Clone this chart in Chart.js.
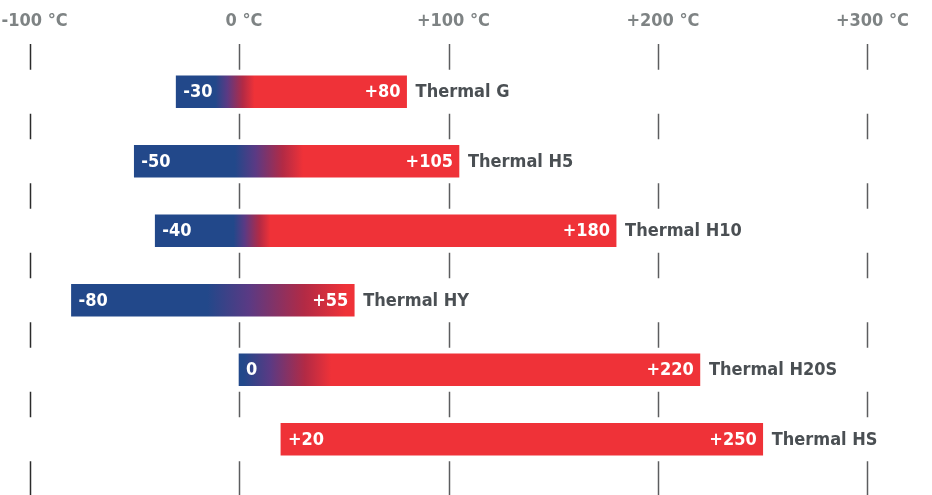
<!DOCTYPE html>
<html lang="de">
<head>
    <meta charset="UTF-8">
    <title>Thermal Temperaturbereiche</title>
    <script src="https://cdn.jsdelivr.net/npm/chart.js"></script>
    <style>
        html, body { margin: 0; padding: 0; background: #fff; }
        .wrap { width: 932px; height: 495px; }
    </style>
</head>
<body>
    <div class="wrap"><canvas id="grafico"></canvas></div>
</body>
</html>

<script>
    // Werte aus dem Bild
    const produkte = ['Thermal G', 'Thermal H5', 'Thermal H10', 'Thermal HY', 'Thermal H20S', 'Thermal HS'];
    const tempMin = [-30, -50, -40, -80, 0, 20];
    const tempMax = [80, 105, 180, 55, 220, 250];
    const tickWerte = [-100, 0, 100, 200, 300];

    // Verlauf blau -> rot, Anteil der Balkenlaenge (null = ganz rot)
    const verlauf = [[0.17, 0.34], [0.31, 0.52], [0.17, 0.25], [0.48, 0.97], [0.01, 0.2], null];

    const BLAU = '#22488a';
    const ROT = '#ef3238';
    const SCHRIFT = '"DejaVu Sans Condensed", "DejaVu Sans", sans-serif';

    function vorzeichen(v) {
        return v > 0 ? '+' + v : String(v);
    }

    function balkenFarbe(ctx) {
        const chart = ctx.chart;
        const x = chart.scales.x;
        const i = ctx.dataIndex;
        if (!chart.chartArea || !x || verlauf[i] === null) return ROT;
        const x0 = x.getPixelForValue(tempMin[i]);
        const x1 = x.getPixelForValue(tempMax[i]);
        const [a, b] = verlauf[i];
        const g = chart.ctx.createLinearGradient(x0, 0, x1, 0);
        g.addColorStop(0, BLAU);
        g.addColorStop(a, BLAU);
        g.addColorStop(a + (b - a) * 0.3, '#5a3a84');
        g.addColorStop(a + (b - a) * 0.7, '#b22a45');
        g.addColorStop(b, ROT);
        g.addColorStop(1, ROT);
        return g;
    }

    // senkrechte Linien mit Luecken um die Zeilen
    const gitter = {
        id: 'gitter',
        beforeDatasetsDraw(chart) {
            const c = chart.ctx;
            const x = chart.scales.x;
            const y = chart.scales.y;
            const halb = 16 + 6;
            c.save();
            c.lineWidth = 1.5;
            tickWerte.forEach((v, k) => {
                c.strokeStyle = k === 0 ? '#2b2b2b' : '#5c5d5f';
                const px = Math.round(x.getPixelForValue(v)) + 0.5;
                let start = 44;
                produkte.forEach((p, i) => {
                    const yc = y.getPixelForValue(i);
                    c.beginPath();
                    c.moveTo(px, start);
                    c.lineTo(px, yc - halb);
                    c.stroke();
                    start = yc + halb;
                });
                c.beginPath();
                c.moveTo(px, start);
                c.lineTo(px, chart.height);
                c.stroke();
            });
            c.restore();
        }
    };

    const beschriftung = {
        id: 'beschriftung',
        afterDatasetsDraw(chart) {
            const c = chart.ctx;
            const x = chart.scales.x;
            const y = chart.scales.y;
            c.save();
            c.font = 'bold 18px ' + SCHRIFT;
            c.textBaseline = 'middle';
            produkte.forEach((name, i) => {
                const x0 = x.getPixelForValue(tempMin[i]);
                const x1 = x.getPixelForValue(tempMax[i]);
                const yc = y.getPixelForValue(i) + 1;
                c.fillStyle = '#ffffff';
                c.textAlign = 'left';
                c.fillText(vorzeichen(tempMin[i]), x0 + 7, yc);
                c.textAlign = 'right';
                c.fillText(vorzeichen(tempMax[i]), x1 - 6, yc);
                c.fillStyle = '#4a4f53';
                c.textAlign = 'left';
                c.fillText(name, x1 + 9, yc);
            });
            c.restore();
        }
    };

    new Chart(document.getElementById('grafico'), {
        type: 'bar',
        data: {
            labels: produkte,
            datasets: [{
                data: produkte.map((p, i) => [tempMin[i], tempMax[i]]),
                backgroundColor: balkenFarbe,
                borderWidth: 0,
                borderSkipped: false,
                barThickness: 32
            }]
        },
        options: {
            indexAxis: 'y',
            responsive: true,
            maintainAspectRatio: false,
            animation: false,
            layout: {
                padding: { top: -14.6, bottom: 21, left: 0, right: 0 }
            },
            scales: {
                x: {
                    type: 'linear',
                    position: 'top',
                    min: -114.1,
                    max: 330.8,
                    afterBuildTicks: axis => {
                        axis.ticks = tickWerte.map(v => ({ value: v }));
                    },
                    afterFit: axis => {
                        axis.paddingLeft = 0;
                        axis.paddingRight = 0;
                    },
                    grid: { display: false, drawTicks: false },
                    border: { display: false },
                    ticks: {
                        padding: 25,
                        labelOffset: 5,
                        maxRotation: 0,
                        color: '#7e8384',
                        font: { family: SCHRIFT, size: 18, weight: 'bold' },
                        callback: v => vorzeichen(v) + ' °C'
                    }
                },
                y: {
                    display: false,
                    offset: true
                }
            },
            plugins: {
                legend: { display: false },
                tooltip: { enabled: false }
            }
        },
        plugins: [gitter, beschriftung]
    });
</script>
